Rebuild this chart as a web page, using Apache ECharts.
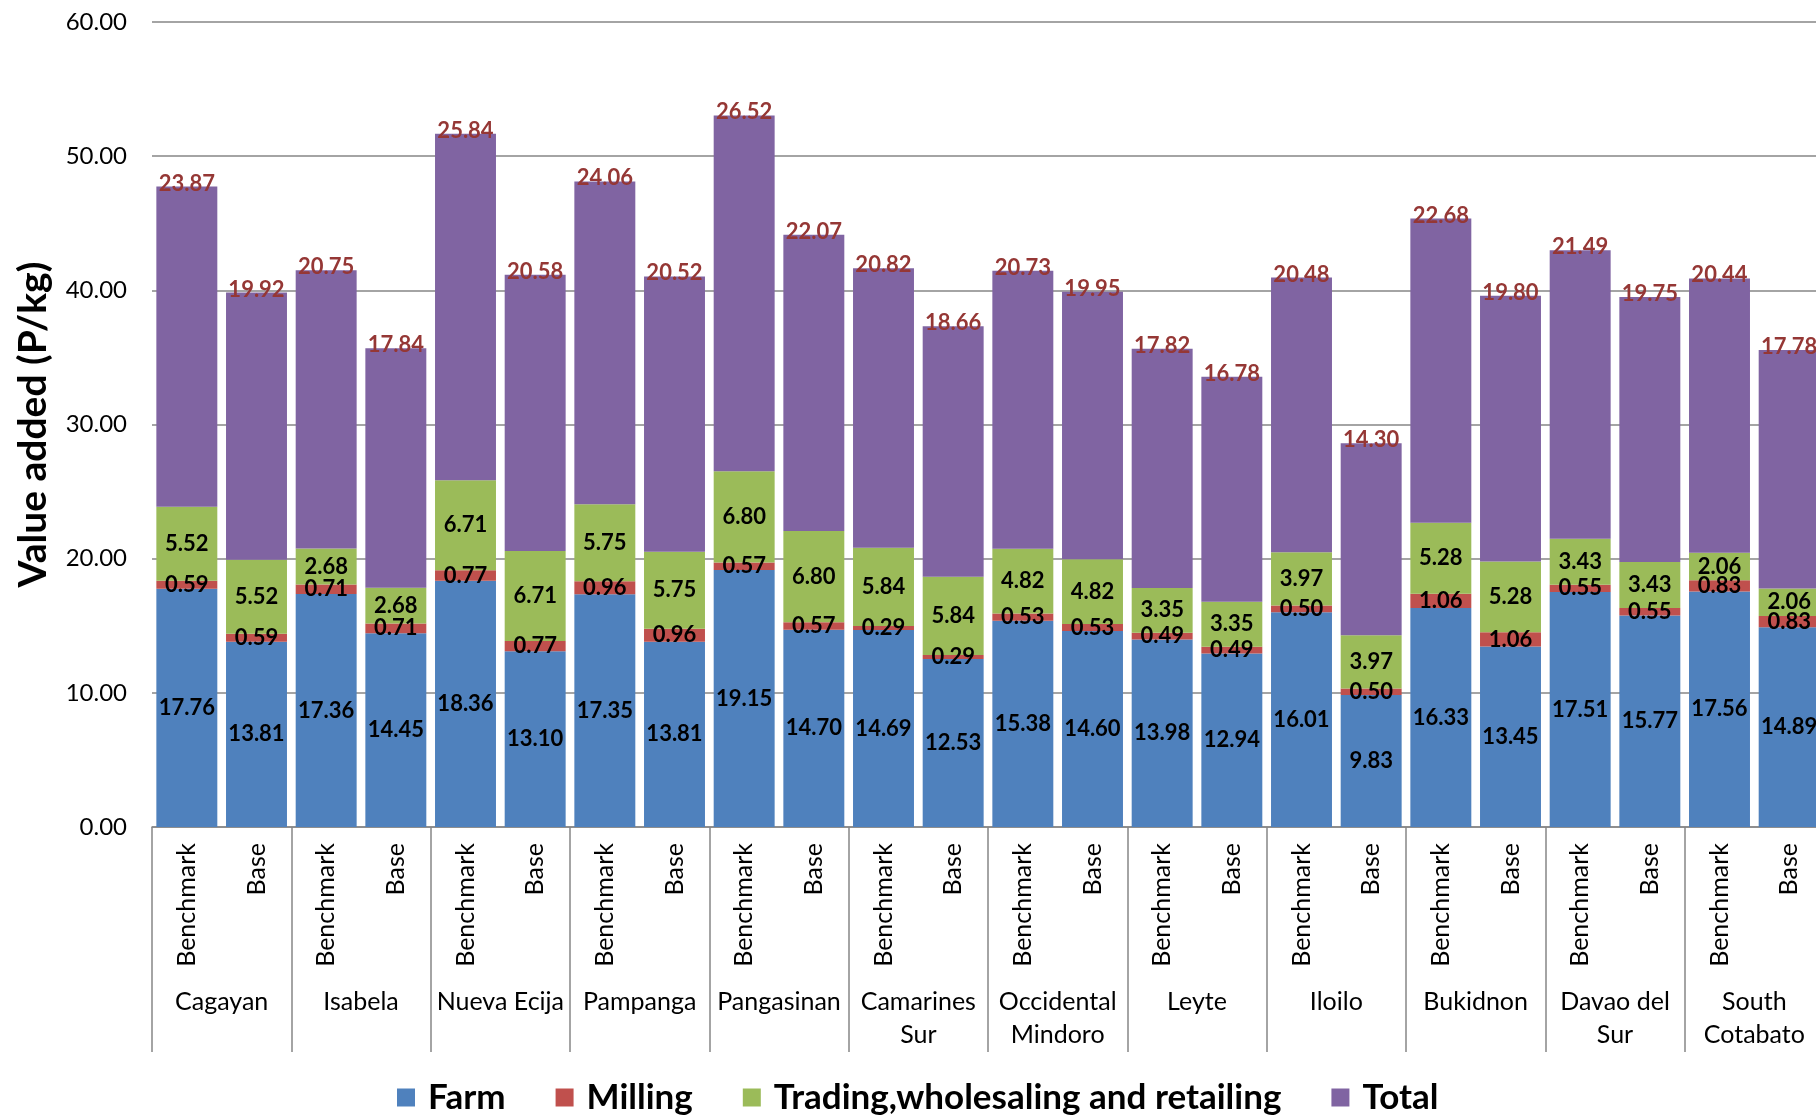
<!DOCTYPE html>
<html>
<head>
<meta charset="utf-8">
<script src="https://cdn.jsdelivr.net/npm/echarts@6/dist/echarts.min.js"></script>
<style>
html,body{margin:0;padding:0;background:#fff;}
#chart{width:1816px;height:1115px;}
</style>
</head>
<body>
<div id="chart"></div>
<script>
const provinces = ['Cagayan','Isabela','Nueva Ecija','Pampanga','Pangasinan','Camarines\nSur','Occidental\nMindoro','Leyte','Iloilo','Bukidnon','Davao del\nSur','South\nCotabato'];
const scenarios = ['Benchmark','Base'];
const seriesNames = ['Farm','Milling','Trading,wholesaling and retailing','Total'];
const farm = [17.76,13.81,17.36,14.45,18.36,13.10,17.35,13.81,19.15,14.70,14.69,12.53,15.38,14.60,13.98,12.94,16.01,9.83,16.33,13.45,17.51,15.77,17.56,14.89];
const milling = [0.59,0.59,0.71,0.71,0.77,0.77,0.96,0.96,0.57,0.57,0.29,0.29,0.53,0.53,0.49,0.49,0.50,0.50,1.06,1.06,0.55,0.55,0.83,0.83];
const trading = [5.52,5.52,2.68,2.68,6.71,6.71,5.75,5.75,6.80,6.80,5.84,5.84,4.82,4.82,3.35,3.35,3.97,3.97,5.28,5.28,3.43,3.43,2.06,2.06];
const total = [23.87,19.92,20.75,17.84,25.84,20.58,24.06,20.52,26.52,22.07,20.82,18.66,20.73,19.95,17.82,16.78,20.48,14.30,22.68,19.80,21.49,19.75,20.44,17.78];
const yTicks = {min:0, max:60, interval:10};

const FONT = 'Lato';
const colors = ['#4F81BD','#C0504D','#9BBB59','#8064A2'];
const innerCats = [];
provinces.forEach(p => scenarios.forEach(s => innerCats.push(p + '|' + s)));

const chart = echarts.init(document.getElementById('chart'), null, {renderer:'canvas'});
const insideLabel = {
  show:true, position:'inside', color:'#000', fontFamily:FONT, fontWeight:'bold', fontSize:22,
  formatter: p => p.value.toFixed(2)
};
function mk(name, data, idx, label){
  return {
    name, type:'bar', stack:'va', data, xAxisIndex:0, yAxisIndex:0,
    barCategoryGap:'12.5%',
    itemStyle:{color:colors[idx]},
    label, emphasis:{disabled:true}
  };
}
chart.setOption({
  animation:false,
  color:colors,
  grid:{left:152, top:22, width:1672, height:805, outerBoundsMode:'none', containLabel:false},
  legend:{
    left:392, top:1075, icon:'rect', itemWidth:18, itemHeight:18, itemGap:50,
    data:seriesNames,
    textStyle:{fontFamily:FONT, fontWeight:'bold', fontSize:35, color:'#000', padding:[0,0,0,8]}
  },
  xAxis:[
    {
      type:'category', data:innerCats, position:'bottom', gridIndex:0,
      axisLine:{show:true, lineStyle:{color:'#868686', width:1.5}},
      axisTick:{show:false},
      axisLabel:{interval:0, rotate:90, margin:16, fontFamily:FONT, fontSize:25, color:'#000',
        formatter: v => v.split('|')[1]}
    },
    {
      type:'category', data:provinces, position:'bottom', gridIndex:0,
      axisLine:{show:false},
      axisTick:{show:true, interval:0, length:225, lineStyle:{color:'#868686', width:1.5}},
      axisLabel:{interval:0, margin:158, fontFamily:FONT, fontSize:25, color:'#000', lineHeight:33}
    }
  ],
  yAxis:{
    type:'value', min:yTicks.min, max:yTicks.max, interval:yTicks.interval,
    name:'Value added (P/kg)', nameLocation:'middle', nameGap:99, nameRotate:90,
    nameTextStyle:{fontFamily:FONT, fontWeight:'bold', fontSize:39, color:'#000'},
    axisLine:{show:false}, axisTick:{show:false},
    axisLabel:{margin:25, fontFamily:FONT, fontSize:24, color:'#000', formatter: v => v.toFixed(2)},
    splitLine:{lineStyle:{color:'#868686', width:1.5}}
  },
  series:[
    mk(seriesNames[0], farm, 0, insideLabel),
    mk(seriesNames[1], milling, 1, insideLabel),
    mk(seriesNames[2], trading, 2, insideLabel),
    mk(seriesNames[3], total, 3, {
      show:true, position:'top', distance:-8, color:'#953735', fontFamily:FONT, fontWeight:'bold', fontSize:22,
      formatter: p => p.value.toFixed(2)
    })
  ]
});
</script>
</body>
</html>
